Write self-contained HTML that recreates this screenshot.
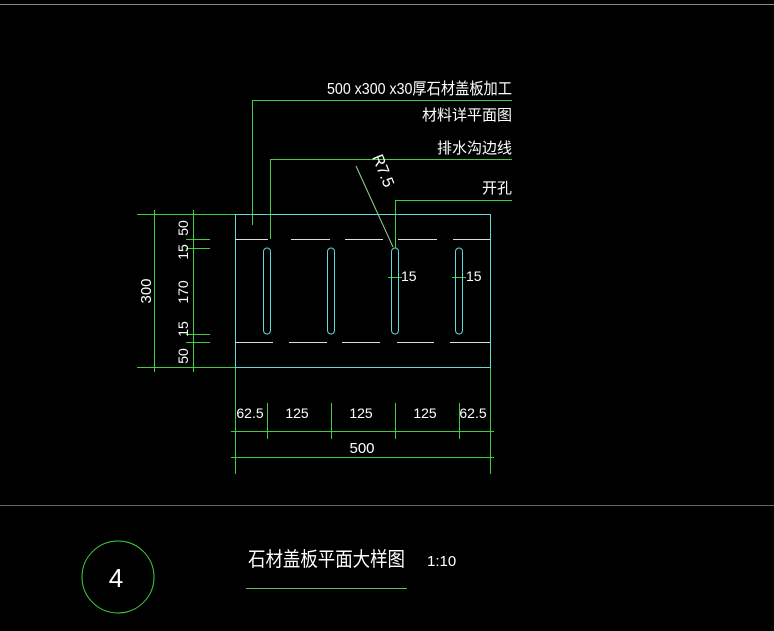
<!DOCTYPE html>
<html><head><meta charset="utf-8"><style>
html,body{margin:0;padding:0;background:#000;width:774px;height:631px;overflow:hidden}
text{font-family:"Liberation Sans","Noto Sans CJK SC",sans-serif;fill:#fff}
</style></head><body>
<svg width="774" height="631" viewBox="0 0 774 631" xmlns="http://www.w3.org/2000/svg">
<line x1="0" y1="4.5" x2="774" y2="4.5" stroke="#888" stroke-width="1"/>
<line x1="0" y1="505.5" x2="774" y2="505.5" stroke="#666" stroke-width="1"/>
<!-- leaders -->
<g stroke="#3ecf3e" stroke-width="1" fill="none">
<polyline points="252.5,225 252.5,100.5 512,100.5"/>
<polyline points="270.5,239 270.5,159.5 512,159.5"/>
<polyline points="395.5,248 395.5,200.5 512,200.5"/>
<line x1="356" y1="166" x2="393" y2="247" stroke="#8fd88f"/>
<line x1="154.5" y1="210" x2="154.5" y2="372"/>
<line x1="193.5" y1="210" x2="193.5" y2="372"/>
<line x1="137" y1="214.5" x2="235" y2="214.5"/>
<line x1="137" y1="367.5" x2="235" y2="367.5"/>
<line x1="186" y1="239.5" x2="210" y2="239.5"/><line x1="186" y1="248.5" x2="210" y2="248.5"/>
<line x1="186" y1="334.5" x2="210" y2="334.5"/><line x1="186" y1="342.5" x2="210" y2="342.5"/>
<line x1="235.5" y1="367" x2="235.5" y2="474"/>
<line x1="490.5" y1="367" x2="490.5" y2="474"/>
<line x1="231" y1="431.5" x2="494" y2="431.5"/>
<line x1="267.5" y1="403" x2="267.5" y2="439"/><line x1="331.5" y1="403" x2="331.5" y2="439"/>
<line x1="395.5" y1="403" x2="395.5" y2="439"/><line x1="459.5" y1="403" x2="459.5" y2="439"/>
<line x1="231" y1="457.5" x2="494" y2="457.5"/>
<line x1="388" y1="277.5" x2="402" y2="277.5"/><line x1="452" y1="277.5" x2="466" y2="277.5"/>
<circle cx="118" cy="577" r="36"/>
<line x1="246" y1="588.5" x2="407" y2="588.5" stroke="#5ec05e"/>
</g>
<!-- plate -->
<rect x="235.5" y="214.5" width="255" height="153" fill="none" stroke="#5fd8d8" stroke-width="1"/>
<g stroke="#ddd" stroke-width="1">
<line x1="235" y1="239.5" x2="268" y2="239.5"/><line x1="291" y1="239.5" x2="330" y2="239.5"/><line x1="345" y1="239.5" x2="383" y2="239.5"/><line x1="398" y1="239.5" x2="437" y2="239.5"/><line x1="453" y1="239.5" x2="490" y2="239.5"/>
<line x1="235" y1="342.5" x2="273" y2="342.5"/><line x1="289" y1="342.5" x2="327" y2="342.5"/><line x1="342" y1="342.5" x2="380" y2="342.5"/><line x1="397" y1="342.5" x2="434" y2="342.5"/><line x1="450" y1="342.5" x2="490" y2="342.5"/>
</g>
<g fill="none" stroke="#5fd8d8" stroke-width="1">
<rect x="263.5" y="248" width="7" height="86" rx="3.5"/>
<rect x="327.5" y="248" width="7" height="86" rx="3.5"/>
<rect x="391.5" y="248" width="7" height="86" rx="3.5"/>
<rect x="455.5" y="248" width="7" height="86" rx="3.5"/>
</g>
<g font-size="14">
<text x="327" y="94" textLength="185" lengthAdjust="spacingAndGlyphs" font-size="16">500 x300 x30厚石材盖板加工</text>
<text x="512" y="120" text-anchor="end" font-size="15">材料详平面图</text>
<text x="512" y="153" text-anchor="end" font-size="15">排水沟边线</text>
<text x="512" y="193" text-anchor="end" font-size="15">开孔</text>
<text transform="translate(372,157) rotate(68)" font-size="16">R7.5</text>
<text x="401" y="281">15</text>
<text x="466" y="281">15</text>
<text transform="translate(151,291) rotate(-90)" text-anchor="middle" font-size="15">300</text>
<text transform="translate(188,228) rotate(-90)" text-anchor="middle">50</text>
<text transform="translate(188,252) rotate(-90)" text-anchor="middle">15</text>
<text transform="translate(188,292) rotate(-90)" text-anchor="middle">170</text>
<text transform="translate(188,329) rotate(-90)" text-anchor="middle">15</text>
<text transform="translate(188,356) rotate(-90)" text-anchor="middle">50</text>
<text x="250" y="418" text-anchor="middle">62.5</text>
<text x="297" y="418" text-anchor="middle">125</text>
<text x="361" y="418" text-anchor="middle">125</text>
<text x="425" y="418" text-anchor="middle">125</text>
<text x="473" y="418" text-anchor="middle">62.5</text>
<text x="362" y="453" text-anchor="middle" font-size="15">500</text>
</g>
<text x="116" y="587" text-anchor="middle" font-size="26">4</text>
<text x="248" y="566" font-size="20" textLength="157" lengthAdjust="spacingAndGlyphs">石材盖板平面大样图</text>
<text x="427" y="566" font-size="15">1:10</text>
</svg>
</body></html>
